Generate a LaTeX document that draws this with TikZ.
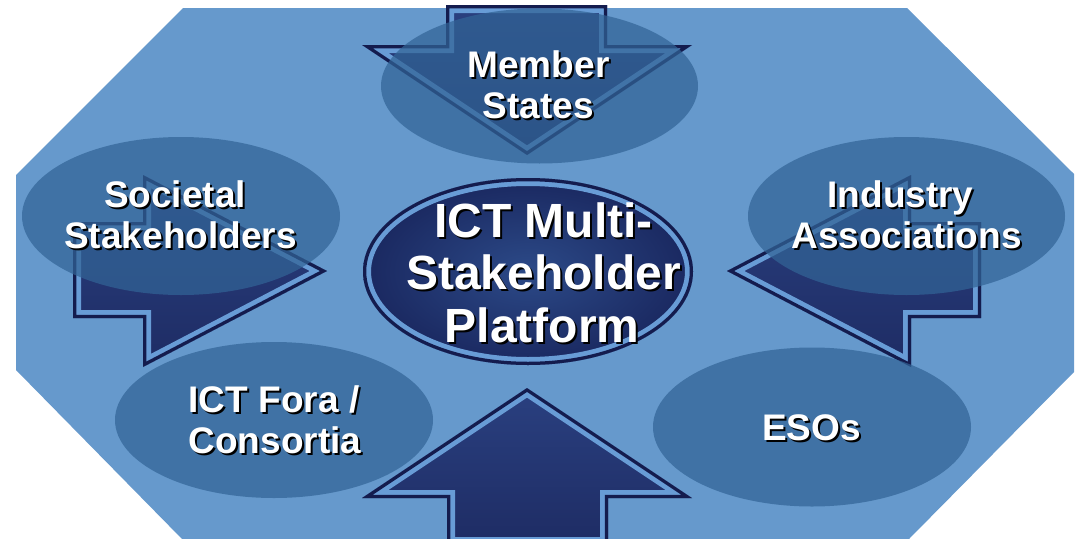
\documentclass[tikz,border=0pt]{standalone}
\usepackage{fontspec}
\setmainfont{Liberation Sans}
\usetikzlibrary{shapes.geometric}
\definecolor{octa}{RGB}{102,153,204}
\definecolor{ellcol}{RGB}{50,100,150}
\definecolor{navyA}{RGB}{42,64,128}
\definecolor{navyB}{RGB}{30,44,100}
\definecolor{bandcol}{RGB}{104,156,214}
\definecolor{rimcol}{RGB}{20,28,78}
\definecolor{hubin}{RGB}{44,74,136}
\definecolor{hubout}{RGB}{26,40,96}
\newcommand{\shtxt}[1]{\rlap{\kern2pt\raisebox{-2pt}{\color{black}#1}}#1}
\newcommand{\blockarrow}[1]{%
  \begin{scope}
    \clip #1;
    \shade[top color=navyA, bottom color=navyB] #1;
    \draw[bandcol, line width=16pt, line join=miter] #1;
    \draw[rimcol, line width=6.5pt, line join=miter] #1;
  \end{scope}}
\tikzset{
  outerell/.style={ellipse, inner sep=0pt, fill=ellcol, fill opacity=0.72, draw=none},
  lbl/.style={anchor=base, inner sep=0pt, text=white, font=\bfseries\fontsize{37}{42}\selectfont},
  hublbl/.style={anchor=base, inner sep=0pt, text=white, font=\bfseries\fontsize{48}{52}\selectfont},
  hubell/.style={ellipse, inner sep=0pt, draw=none, inner color=hubin, outer color=hubout}
}
\begin{document}
\begin{tikzpicture}[x=1pt,y=-1pt]
\useasboundingbox (0,0) rectangle (1075,538);
% octagon background
\fill[octa] (183,8) -- (907,8) -- (1074,174) -- (1074,372) -- (908,540) -- (183,540) -- (16,370) -- (16,175) -- cycle;
% block arrows
\blockarrow{(446,5) -- (607,5) -- (607,45) -- (692,45) -- (527,155) -- (362,45) -- (446,45) -- cycle}
\blockarrow{(527,388) -- (692,498) -- (608,498) -- (608,545) -- (447,545) -- (447,498) -- (362,498) -- cycle}
\blockarrow{(73,222) -- (143,222) -- (143,175) -- (327,271) -- (143,367) -- (143,318) -- (73,318) -- cycle}
\blockarrow{(981,222) -- (911,222) -- (911,175) -- (727,271) -- (911,367) -- (911,318) -- (981,318) -- cycle}
% hub
\node[hubell, minimum width=330pt, minimum height=187pt] (hub) at (528,271.5) {};
\begin{scope}
  \clip (hub.center) ellipse [x radius=165pt, y radius=93.5pt];
  \draw[bandcol, line width=16pt] (hub.center) ellipse [x radius=165pt, y radius=93.5pt];
  \draw[rimcol, line width=6.5pt] (hub.center) ellipse [x radius=165pt, y radius=93.5pt];
\end{scope}
% outer ellipses
\node[outerell, minimum width=317pt, minimum height=155pt] (ms) at (539.5,86) {};
\node[outerell, minimum width=318pt, minimum height=158pt] (soc) at (181,216) {};
\node[outerell, minimum width=317pt, minimum height=158pt] (ind) at (906.5,216) {};
\node[outerell, minimum width=318pt, minimum height=156pt] (fora) at (274,420) {};
\node[outerell, minimum width=318pt, minimum height=159pt] (eso) at (812,427) {};
% labels
\node[lbl] (ms1) at (538.5,77) {\shtxt{Member}};
\node[lbl] (ms2) at (538.5,118) {\shtxt{States}};
\node[lbl] (soc1) at (175,207) {\shtxt{Societal}};
\node[lbl] (soc2) at (180.5,248) {\shtxt{Stakeholders}};
\node[lbl] (ind1) at (900.5,207) {\shtxt{Industry}};
\node[lbl] (ind2) at (906.5,248) {\shtxt{Associations}};
\node[lbl] (fora1) at (274,412) {\shtxt{ICT Fora /}};
\node[lbl] (fora2) at (275,453) {\shtxt{Consortia}};
\node[lbl] (eso1) at (811.5,440) {\shtxt{ESOs}};
\node[hublbl] (hub1) at (543.5,237) {\shtxt{ICT Multi-}};
\node[hublbl] (hub2) at (543.5,289) {\shtxt{Stakeholder}};
\node[hublbl] (hub3) at (542,342) {\shtxt{Platform}};
\end{tikzpicture}
\end{document}
